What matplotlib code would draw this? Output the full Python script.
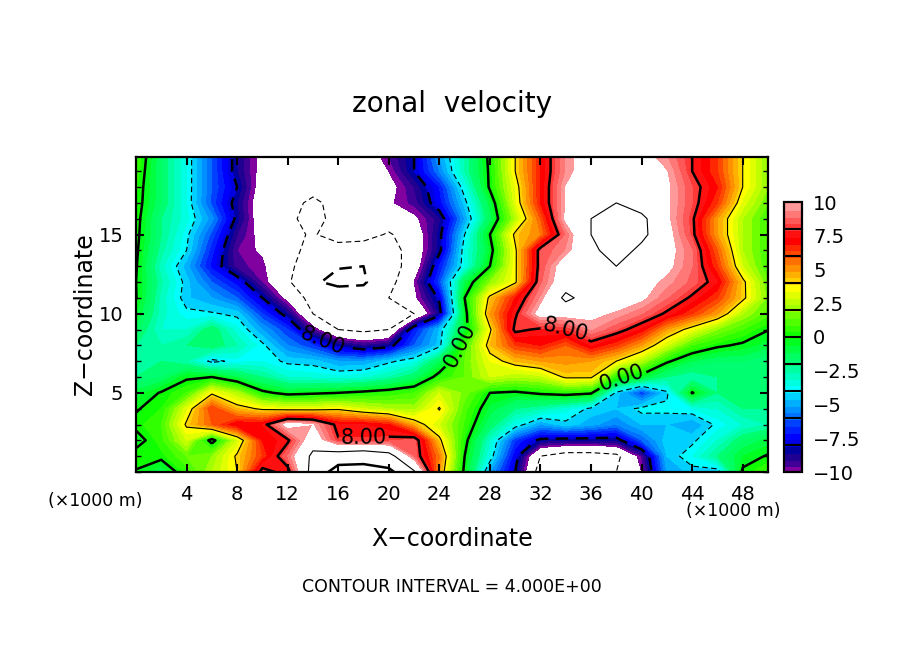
import numpy as np
import matplotlib
matplotlib.use('Agg')
import matplotlib.pyplot as plt
from matplotlib.cm import ScalarMappable
from matplotlib.colors import ListedColormap, BoundaryNorm
from matplotlib.ticker import MultipleLocator

x_km = np.arange(0, 51, 2)
z_km = [0, 1, 2, 3, 4, 5, 6, 7, 8, 9, 10, 11, 12, 13, 14, 15, 16, 17, 18, 19, 19.9]

# zonal velocity, one row per height, x = 0,2,...,50
u_z20 = [1, -1.5, -3.5, -6, -8.5, -10.5, -10.8, -11, -11.2, -11, -9.5, -8, -5, -2.5, 0.3, 4, 7, 9.5, 11, 11, 10.5, 9.5, 8, 6.5, 4, 2]
u_z19 = [0.8, -1.5, -3.5, -6, -8.5, -10.5, -10.8, -11, -11.2, -11, -10, -8, -5.5, -2.5, 0.2, 4, 7, 9.5, 11, 11, 11, 10, 8, 6.5, 4, 2]
u_z18 = [0.6, -1.5, -3.5, -6, -8, -10.8, -11.2, -11.5, -11.5, -11.2, -10.5, -9, -7, -3.5, 0.2, 3.5, 7, 10, 11, 11.5, 11, 10.2, 8.5, 7, 4, 2]
u_z17 = [0.5, -1.5, -3.5, -6.2, -8.5, -11, -11.5, -12.3, -11.5, -11, -10.2, -9.3, -7.3, -4.3, -0.8, 3.3, 7, 10, 11.5, 12, 11, 10.2, 8.5, 6.5, 3.3, 1.5]
u_z16 = [0.4, -2, -3.3, -5.3, -8.3, -11, -11.7, -12.5, -11.5, -11, -11, -10.3, -8.7, -5, -1.2, 2.5, 6, 10.2, 12, 13, 12.5, 10.2, 8.2, 5, 2.5, 1]
u_z15 = [0.3, -2, -3.8, -6.2, -9, -10.5, -11.5, -12.2, -11, -11.3, -12.2, -11, -8.3, -4, 0, 4.3, 5.5, 9, 12, 13.5, 12.5, 10.5, 8.3, 5, 2.5, 1]
u_z14 = [0.2, -2.3, -4, -6.8, -9.5, -10.2, -11.5, -12.5, -13, -13, -13, -11, -8.3, -3.5, -0.5, 3.8, 8.5, 9.5, 11.5, 13, 11.5, 10.5, 9, 6, 2.5, 1]
u_z13 = [0.1, -2.8, -4.8, -7.2, -9.3, -9.8, -11.7, -12.8, -15.8, -16, -13, -11, -7, -3.5, 0, 3.8, 8.5, 10.8, 11.5, 12, 11, 10.3, 9, 6.5, 3, 1]
u_z12 = [0, -2.4, -4.3, -6, -7.3, -9.6, -11.5, -15.5, -17, -16.5, -12.8, -10, -6.3, -1, 2, 3.8, 8.8, 11, 11, 11, 10.5, 9.7, 8.8, 7.5, 4.3, 1.5]
u_z11 = [0.05, -2.7, -4.4, -5, -6, -8, -10.5, -12.8, -13.5, -14, -12, -10.3, -7.8, 0, 4.3, 7, 9.5, 12.5, 11, 10.8, 10.2, 9, 7.8, 6.5, 4.3, 1.8]
u_z10 = [-0.5, -2.8, -3.8, -3.9, -4.2, -6.5, -8.5, -12, -13.5, -14, -13.5, -12, -8.5, -0.5, 5, 7.8, 10.5, 10.5, 10.3, 9.8, 9, 7.8, 6.5, 5, 2.5, 1.2]
u_z09 = [-1.3, -3, -3, -1.5, -3.3, -5, -6.5, -9.5, -12, -12.5, -12, -7, -4.5, -0.5, 3.8, 8.3, 7.8, 8, 9.5, 8.5, 7.3, 5, 3.5, 2, 1, 0.05]
u_z08 = [-2, -2.5, -2, -1.5, -2.5, -3.8, -5.5, -6.5, -8.3, -9, -8.5, -6, -4.3, 1, 4.5, 6.5, 7, 6, 7.5, 6.5, 5, 3, 1, 0.2, -0.2, -0.8]
u_z07 = [-2, -2, -2.5, -4.3, -3.7, -3.5, -4.2, -4.3, -5, -5, -4.2, -3.5, -1.2, 1.5, 3.5, 4.5, 5, 5.2, 5, 4, 2.5, 0.2, -1, -1.5, -1.5, -2]
u_z06 = [-2, -1.5, -0.2, 0, -1, -2, -3, -3.2, -3.4, -3.2, -2.5, -1.5, 0.5, 1.5, 3, 2.5, 2.8, 4.2, 4.2, 0.5, -0.5, -2, -2.5, -2, -1.5, -1.5]
u_z05 = [-0.8, 0.1, 1, 3.8, 2.5, 0.3, -0.4, -0.2, 0, 0.3, 0.6, 1, 3, 1.8, 0, -0.2, 0.2, 0.5, 0.2, -4.2, -6.5, -4.2, 0.1, -2, -1.5, -1.5]
u_z04 = [-0.1, 0.5, 3.3, 6.5, 4.5, 3.8, 3.5, 3.5, 3.8, 3, 2.5, 2.3, 4.1, 1.2, -0.7, -2, -2.5, -3.3, -4.2, -4.5, -3.8, -3.8, -3.5, -3, -2, -2]
u_z03 = [0.3, 1, 4.2, 6, 7.5, 7.5, 10.5, 10, 7.6, 7.5, 7, 4.7, 3, 0.9, -1.5, -3.5, -5, -4.2, -4.8, -5.5, -4.5, -4.5, -5, -3.8, -3, -2.5]
u_z02 = [-0.5, 0.8, 3, -0.5, 3, 7, 7.8, 11, 8.1, 8.1, 8.3, 8.8, 4.3, 0.4, -3, -6.5, -8.3, -8.5, -8.5, -8.5, -6, -4.2, -4.2, -3, -1.5, -0.8]
u_z01 = [0.5, 0.3, 1.5, 2, 4.2, 6.5, 9, 12.5, 13.5, 14, 13, 8.8, 5.5, 0, -3.5, -7.5, -12, -13, -13, -12.5, -9.5, -4.5, -3.5, -2, -0.5, 0.1]
u_z00 = [-0.1, -1, 0.7, 2.5, 4, 8.5, 7.5, 13, 18, 18, 17, 12.3, 5, -0.3, -5, -8, -13, -14, -14, -12, -10, -5, -4.3, -4.5, 0.2, 1]

u = np.array([u_z00, u_z01, u_z02, u_z03, u_z04, u_z05, u_z06, u_z07, u_z08, u_z09, u_z10,
              u_z11, u_z12, u_z13, u_z14, u_z15, u_z16, u_z17, u_z18, u_z19, u_z20])

# colour bands low to high, 4 shades per block of the colour bar
band_colors = ['#8000a0', '#400098', '#200090', '#0000a0',
               '#0000e0', '#0000ff', '#0020ff', '#0040ff',
               '#0070ff', '#0090ff', '#00b0ff', '#00d0ff',
               '#00ffff', '#00ffe0', '#00ffc0', '#00ffa0',
               '#00ff70', '#00ff60', '#00ff40', '#00ff20',
               '#10ff00', '#30ff00', '#50ff00', '#70ff00',
               '#a0ff00', '#c0ff00', '#e0ff00', '#ffff00',
               '#ffd000', '#ffb000', '#ff9000', '#ff7000',
               '#ff4800', '#ff2800', '#ff0000', '#ff1010',
               '#ff3838', '#ff5858', '#ff7878', '#ff9898']
levels = np.linspace(-10, 10, len(band_colors) + 1)
block_edges = [-8, -6, -4, -2, 0, 2, 4, 6, 8]
cb_ticks = [-10, -7.5, -5, -2.5, 0, 2.5, 5, 7.5, 10]
cb_labels = ['\u221210', '\u22127.5', '\u22125', '\u22122.5', '0', '2.5', '5', '7.5', '10']
x_ticks = [4, 8, 12, 16, 20, 24, 28, 32, 36, 40, 44, 48]
z_ticks = [5, 10, 15]

W, H = 904, 654
fig = plt.figure(figsize=(W / 100, H / 100), dpi=100)
ax = fig.add_axes([136 / W, (H - 472) / H, 632 / W, 315 / H])

cmap = ListedColormap(band_colors)
cmap.set_over('white')
cmap.set_under('white')
norm = BoundaryNorm(levels, cmap.N)

cf = ax.contourf(x_km, z_km, u, levels=levels, cmap=cmap, norm=norm, extend='both', antialiased=False)
thin = ax.contour(x_km, z_km, u, levels=[-12, -4, 4, 12], colors='k', linewidths=0.8)
thick = ax.contour(x_km, z_km, u, levels=[-16, -8, 0, 8, 16], colors='k', linewidths=1.8)
for c in (thin, thick):
    c.set_linestyles([(0, (5, 3)) if lv < 0 else 'solid' for lv in c.levels])

ax.clabel(thick, fmt=lambda v: '%.2f' % abs(v), fontsize=15, inline=True, inline_spacing=2,
          manual=[(14.8, 8.4), (25.5, 8.0), (34.0, 9.1), (38.5, 5.6), (18.0, 2.3)])

ax.set_xlim(0, 50)
ax.set_ylim(0, 19.9)
ax.set_xticks(x_ticks)
ax.set_yticks(z_ticks)
ax.yaxis.set_minor_locator(MultipleLocator(1))
ax.tick_params(which='major', direction='in', top=True, right=True, length=6, width=1.5, labelsize=14, pad=9)
ax.tick_params(which='minor', direction='in', top=True, right=True, length=3.5, width=1)
for s in ax.spines.values():
    s.set_linewidth(1.6)

ax.set_xlabel('X\u2212coordinate', fontsize=17, labelpad=17)
ax.set_ylabel('Z\u2212coordinate', fontsize=17, labelpad=1)

fig.text(452 / W, 1 - 104 / H, 'zonal  velocity', fontsize=20, ha='center', va='center')
fig.text(95 / W, 1 - 501 / H, '(\u00d71000 m)', fontsize=12.5, ha='center', va='center')
fig.text(733 / W, 1 - 511 / H, '(\u00d71000 m)', fontsize=12.5, ha='center', va='center')
fig.text(452 / W, 1 - 587 / H, 'CONTOUR INTERVAL = 4.000E+00', fontsize=12.5, ha='center', va='center')

cax = fig.add_axes([784 / W, (H - 472) / H, 18 / W, 270 / H])
cb = fig.colorbar(ScalarMappable(norm=norm, cmap=cmap), cax=cax, extend='neither', spacing='proportional', ticks=cb_ticks)
cb.set_ticklabels(cb_labels)
cb.ax.minorticks_off()
cb.ax.tick_params(length=0, labelsize=14, pad=8)
cb.solids.set_edgecolor('face')
for t in block_edges:
    cb.ax.axhline(t, color='k', lw=1.5)
cb.outline.set_linewidth(1.6)

fig.savefig('out.png', dpi=100)
